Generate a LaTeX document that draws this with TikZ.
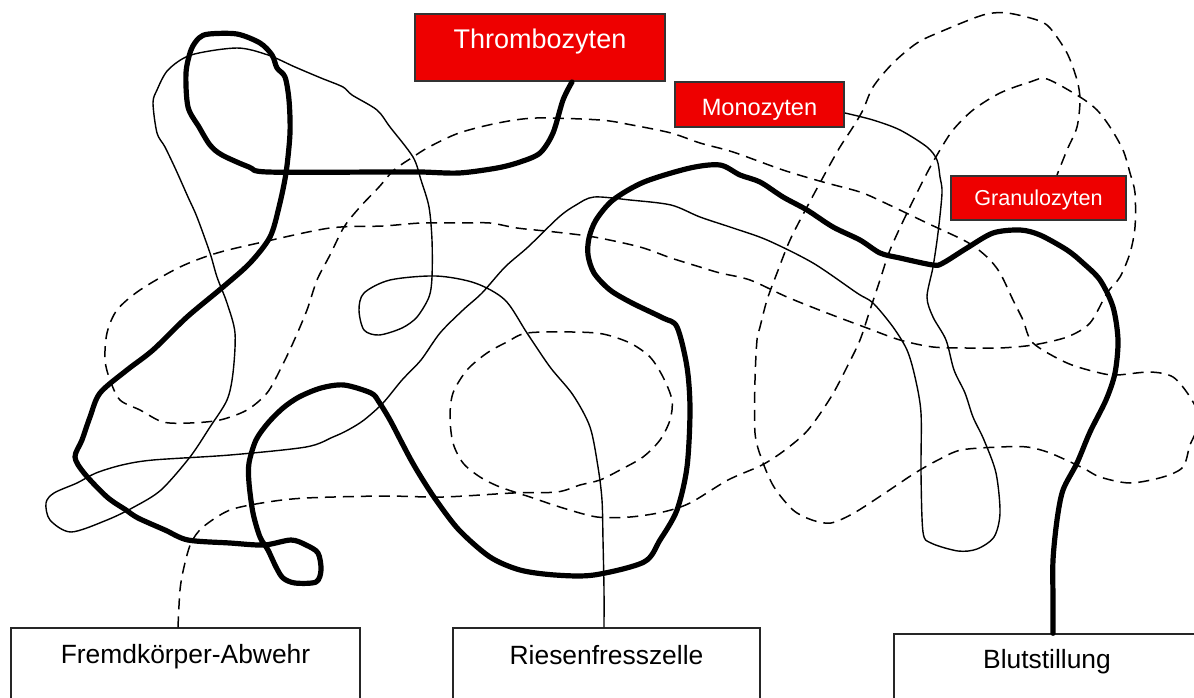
\documentclass[tikz,border=0pt]{standalone}
\usepackage{fontspec}
\setmainfont{Liberation Sans}
\definecolor{cellred}{RGB}{238,0,0}
\begin{document}
\begin{tikzpicture}[x=0.5pt,y=-0.5pt,
	  cellbox/.style={draw=black!80, line width=1pt, fill=cellred, text=white, inner sep=0pt},
	  taskbox/.style={draw=black!85, line width=0.7pt, fill=white, inner sep=0pt},
	  platelet/.style={line width=2.6pt, line join=round, line cap=round},
	  monocyte/.style={line width=0.7pt, line join=round},
	  granulocyte/.style={line width=0.75pt, dash pattern=on 5.5pt off 3.5pt}]

	  \clip (0,0) rectangle (1194,697);

	  % cells
	  \node[cellbox, minimum width=125pt, minimum height=33.5pt, font=\fontsize{13.5}{16}\selectfont,
	    text height=9.7pt, text depth=8.5pt] (throm) at (540,47.5) {Thrombozyten};
	  \node[cellbox, minimum width=84.5pt, minimum height=22.5pt, font=\fontsize{11.8}{14}\selectfont,
	    text height=10.9pt, text depth=0pt] (mono) at (759.5,104.5) {Monozyten};
	  \node[cellbox, minimum width=87.5pt, minimum height=22pt, font=\fontsize{10.8}{13}\selectfont,
	    text height=7.7pt, text depth=0pt] (gran) at (1038.5,198) {Granulozyten};

	  % tasks
	  \node[taskbox, minimum width=174.5pt, minimum height=46pt, font=\fontsize{13.2}{16}\selectfont,
	    text height=9.45pt, text depth=20pt] (fremd) at (185.5,674) {Fremdkörper-Abwehr};
	  \node[taskbox, minimum width=153.5pt, minimum height=46pt, font=\fontsize{13.2}{16}\selectfont,
	    text height=9.45pt, text depth=19pt] (ries) at (606.5,674) {Riesenfresszelle};
	  \node[taskbox, minimum width=153pt, minimum height=43pt, font=\fontsize{13.2}{16}\selectfont,
	    text height=9.45pt, text depth=18pt] (blut) at (1047,677) {Blutstillung};

	  % Thrombozyten -> Blutstillung
	  \draw[platelet] plot[smooth, tension=0.5] coordinates {(throm.south -| 572,0)
	    (563,100) (553,133) (540,153) (520,162) (497,168) (459,173) (421,172) (383,172) (268,172)
	    (249,167) (222,155) (210,145) (199,127) (188,107) (186,73) (191,50) (199,38) (209,34)
	    (237,34) (260,43) (272,55) (277,68) (285,77) (289,100) (290,133) (286,173) (279,207)
	    (270,237) (250,263) (223,287) (187,317) (153,350) (127,370) (100,393) (90,417) (82,440)
	    (75,457) (84,473) (107,497) (126,510) (138,518) (165,530) (188,540) (230,543) (264,545)
	    (291,540) (306,545) (318,553) (321,570) (316,582) (295,583) (283,578) (276,567) (268,550)
	    (260,537) (253,513) (249,483) (249,463) (256,440) (268,423) (283,408) (299,397) (321,388)
	    (344,385) (371,393) (379,402) (390,420) (402,443) (411,460) (421,477) (436,500) (459,530)
	    (490,557) (520,570) (555,575) (594,575) (644,562) (660,540) (677,510) (687,467) (690,410)
	    (687,367) (677,327) (663,318) (632,303) (610,290) (594,273) (588,255) (589,238) (596,220)
	    (613,200) (644,182) (690,168) (720,165) (740,175) (760,182) (783,197) (807,210) (833,227)
	    (860,240) (880,253) (900,258) (933,265) (943,263) (967,248) (993,233) (1020,230) (1040,235)
	    (1067,250) (1083,263) (1100,280) (1113,307) (1118,340) (1115,373) (1106,400) (1090,432)
	    (1077,463) (1063,490) (1057,520) (1053,560) (1053,600) (blut.north -| 1053,0)};

	  % Monozyten -> Riesenfresszelle
	  \draw[monocyte] plot[smooth, tension=0.5] coordinates {(mono.east |- 0,113)
	    (873,120) (900,130) (927,147) (937,160) (940,177) (942,193) (938,233) (933,267) (927,297)
	    (933,317) (946,340) (954,370) (965,393) (973,417) (984,440) (996,473) (1000,513) (994,537)
	    (977,549) (958,551) (931,543) (923,532) (921,473) (921,413) (915,377) (907,350) (893,327)
	    (873,303) (857,293) (813,263) (767,240) (733,228) (700,217) (671,205) (630,200) (594,197)
	    (576,205) (559,217) (528,247) (505,267) (482,293) (463,310) (440,333) (421,360) (402,380)
	    (383,403) (364,420) (348,430) (333,437) (306,447) (230,455) (153,460) (122,465) (96,473)
	    (77,483) (54,493) (46,503) (50,520) (71,532) (107,520) (134,507) (161,490) (190,457)
	    (210,427) (227,400) (233,373) (235,333) (227,303) (217,277) (210,253) (197,217) (188,197)
	    (176,170) (165,147) (157,133) (153,103) (157,90) (168,70) (191,55) (237,48) (268,55)
	    (295,67) (321,78) (343,87) (352,95) (377,110) (390,127) (413,157) (421,180) (429,207)
	    (432,240) (432,277) (429,297) (417,317) (402,328) (379,335) (364,330) (359,310) (364,293)
	    (390,280) (436,276) (475,283) (505,300) (527,333) (550,367) (573,395) (590,427) (598,467)
	    (602,500) (603,540) (604,590) (ries.north -| 604,0)};

	  % Granulozyten -> Fremdkoerper-Abwehr
	  \draw[granulocyte] plot[smooth, tension=0.5] coordinates {(fremd.north -| 178,0)
	    (180,590) (184,567) (191,543) (203,527) (230,510) (268,502) (306,498) (383,496) (443,497)
	    (513,493) (557,492) (580,485) (600,480) (620,470) (643,457) (660,440) (670,420) (672,400)
	    (663,377) (650,357) (630,343) (603,334) (573,332) (527,333) (507,342) (487,353) (467,370)
	    (453,393) (450,417) (453,443) (463,463) (480,477) (500,487) (530,497) (563,508) (597,517)
	    (630,517) (663,512) (690,503) (728,480) (762,465) (785,450) (808,430) (831,397) (847,367)
	    (860,340) (870,310) (880,280) (890,250) (907,213) (927,173) (940,150) (953,130) (973,110)
	    (1000,93) (1030,82) (1047,79) (1080,97) (1097,110) (1110,127) (1123,150) (1130,173)
	    (1135,193) (1135,227) (1130,253) (1120,277) (1107,293) (1090,323) (1067,337) (1033,345)
	    (1000,348) (967,348) (933,347) (900,340) (867,328) (827,313) (787,297) (750,280) (720,273)
	    (700,267) (671,258) (640,247) (594,237) (555,232) (517,228) (490,223) (459,223) (421,223)
	    (383,226) (330,228) (263,242) (217,253) (180,267) (140,290) (117,310) (107,333) (105,360)
	    (110,380) (120,400) (140,410) (163,422) (190,423) (220,420) (247,410) (267,393) (280,370)
	    (293,343) (307,310) (317,280) (330,255) (344,227) (360,207) (379,187) (394,170) (413,157)
	    (429,147) (459,133) (498,123) (536,118) (600,120) (632,125) (671,133) (700,143) (733,152)
	    (783,170) (823,182) (860,192) (883,202) (927,223) (967,242) (987,257) (1000,273) (1013,300)
	    (1023,320) (1033,343) (1067,363) (1100,373) (1117,375) (1150,372) (1173,377) (1190,397)
	    (1200,420) (1190,445) (1183,467) (1163,477) (1130,483) (1100,477) (1083,468) (1050,453)
	    (1027,447) (1000,447) (961,450) (938,460) (915,473) (885,493) (854,513) (831,523) (812,520)
	    (793,510) (774,487) (762,460) (755,433) (755,380) (757,340) (760,327) (767,300) (777,273)
	    (790,240) (807,207) (827,170) (840,147) (853,127) (863,110) (873,87) (893,63) (917,43)
	    (940,32) (983,15) (1007,13) (1037,20) (1050,28) (1067,53) (1077,80) (1080,100) (1077,127)
	    (1067,150) (gran.north -| 1057,0)};
\end{tikzpicture}
\end{document}
